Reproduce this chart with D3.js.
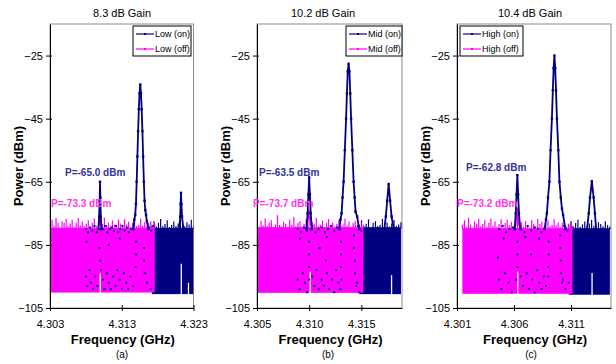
<!DOCTYPE html>
<html>
<head>
<meta charset="utf-8">
<script src="https://cdn.jsdelivr.net/npm/d3@7"></script>
<style>
  body { margin: 0; background: #fff; }
  svg { display: block; font-family: "Liberation Sans", Arial, sans-serif; }
</style>
</head>
<body>
<svg id="chart" width="616" height="364"></svg>
<script>
// ---- data ----
const titles = ['8.3 dB Gain', '10.2 dB Gain', '10.4 dB Gain'];
const letters = ['(a)', '(b)', '(c)'];
const onNames = ['Low (on)', 'Mid (on)', 'High (on)'];
const offNames = ['Low (off)', 'Mid (off)', 'High (off)'];
const onLabels = ['P=-65.0 dBm', 'P=-63.5 dBm', 'P=-62.8 dBm'];
const offLabels = ['P=-73.3 dBm', 'P=-73.7 dBm', 'P=-73.2 dBm'];

const yTicks = [-105, -85, -65, -45, -25];
const yDomain = [-105, -15];
const xDomains = [[4.303, 4.323], [4.305, 4.3189], [4.301, 4.3145]];
const xTicks = [[4.303, 4.313, 4.323], [4.305, 4.310, 4.315], [4.301, 4.306, 4.311]];

// noise floor: start / end of each band (GHz), bottom and solid top (dBm)
const offSpans = [[4.3030, 4.3176], [4.3050, 4.3152], [4.30147, 4.31112]];
const onSpans = [[4.3172, 4.3230], [4.3148, 4.3188], [4.3108, 4.3144]];
const offFloor = [-100.1, -100.2, -100.5];
const onFloor = [-100.6, -100.6, -100.8];
const bandBase = [-79.6, -79.4, -79.7];

// jagged top of the noise bands (dBm), left to right
const lowOffTop = [-78.5, -77, -79, -76.5, -78, -79.5, -77.5, -78, -76.8, -79, -78.2, -77, -79.3, -78, -76.5, -78.8, -77.6, -79, -78.3, -77.2, -79.5, -78, -76.6, -78.9, -77.8, -79.2, -78.4, -76.4, -78.7, -77.9, -79.1, -77.3, -78.6, -79.4, -77, -78.2, -79, -76.9, -78.5, -77.7, -79.3, -78.1, -77.4, -79, -78.6, -76.7, -78.9, -77.8, -79.2, -78, -77.5, -79.1, -78.4];
const lowOnTop = [-78.8, -77.5, -79.2, -78, -76.8, -79, -78.4, -77.2, -79.3, -78.6, -77.6, -79, -78.2, -76.9, -78.7, -79.1, -77.8, -78.5, -77, -79];
const midOffTop = [-78.2, -79.4, -77.4, -78.8, -76.6, -79, -78, -77.2, -79.3, -78.5, -75.6, -78.7, -79.1, -77.6, -78.3, -79.5, -77, -78.6, -76.2, -79, -78.1, -77.5, -79.2, -78.4, -76.9, -78.8, -79.3, -77.7, -78.2, -76.5, -79, -78.6, -77.3, -79.4, -78, -76.8, -78.9, -77.9, -79.2, -78.3, -77.1, -79, -78.5, -76.7, -78.9, -77.6, -79.3, -78.1, -77.4, -78.8, -79.1, -77.8, -78.6];
const midOnTop = [-78.6, -77.2, -79.1, -78.3, -76.9, -79.4, -78, -77.5, -79, -78.6, -76.8, -78.9, -77.9, -79.2, -78.2, -77.1, -79, -78.5, -77.8];
const highOffTop = [-78.6, -77.2, -79.3, -76.4, -78.5, -79.6, -77.6, -78.2, -76.8, -79.1, -78.3, -77.1, -79.4, -78, -76.6, -78.9, -77.5, -79.2, -78.4, -76.9, -79.6, -78.1, -77, -78.8, -77.7, -79.3, -78.5, -76.5, -78.6, -77.8, -79.2, -77.4, -78.7, -79.5, -77.1, -78.3, -79.1, -76.8, -78.4, -77.6, -79.4, -78.2, -77.3, -79.1, -78.7, -76.9, -78.8, -77.9, -79.3, -78.1, -77.4, -79.2, -78.3, -77.8, -79];
const highOnTop = [-78.8, -77.4, -79.2, -78.1, -77, -79.3, -78.5, -77.6, -79, -78.2, -77.1, -78.9, -79.4, -77.8, -78.4, -79.1, -77.5, -78.7, -79.2];

// carrier / spur peaks of the "on" trace [GHz, dBm]
const lowOnPeaks = [
  [[4.30975, -80], [4.30985, -76], [4.30992, -71], [4.30997, -65], [4.31002, -70], [4.31008, -76], [4.31018, -80]],
  [[4.3146, -80], [4.31475, -77], [4.31488, -75.5], [4.31498, -72], [4.31508, -65], [4.31518, -57], [4.31528, -49], [4.31538, -42], [4.31548, -37], [4.31558, -34.2], [4.31568, -37], [4.31578, -42], [4.31588, -49], [4.31598, -57], [4.31608, -65], [4.31618, -71], [4.31628, -74], [4.31638, -75.5], [4.3165, -77.5], [4.3167, -80]],
  [[4.3210, -80], [4.32115, -76], [4.3212, -72], [4.32126, -68.5], [4.32132, -72], [4.3214, -76], [4.3216, -80]]
];
const midOnPeaks = [
  [[4.30975, -80], [4.30985, -75], [4.30993, -69], [4.3100, -63.6], [4.31007, -69], [4.31015, -75], [4.31025, -80]],
  [[4.3129, -80], [4.3130, -77], [4.31311, -75], [4.3132, -70], [4.3133, -65], [4.31342, -55], [4.31354, -45], [4.31362, -37], [4.3137, -30], [4.31378, -27.6], [4.31386, -30], [4.31394, -37], [4.31402, -45], [4.31414, -55], [4.31426, -65], [4.31436, -70], [4.31445, -74.5], [4.3146, -76], [4.3148, -80]],
  [[4.3172, -80], [4.31735, -76], [4.31748, -71], [4.31762, -65.7], [4.31776, -71], [4.3179, -76], [4.3181, -80]]
];
const highOnPeaks = [
  [[4.30605, -80], [4.30615, -75], [4.30622, -69], [4.30629, -62.9], [4.30636, -69], [4.30643, -75], [4.30655, -80]],
  [[4.30868, -80], [4.3088, -77], [4.30888, -75], [4.30898, -70], [4.3091, -65], [4.3092, -55], [4.30932, -45], [4.3094, -36], [4.30947, -29], [4.30954, -25], [4.30961, -29], [4.30968, -36], [4.30976, -45], [4.30988, -55], [4.30998, -65], [4.3101, -70], [4.3102, -73.5], [4.3103, -75.5], [4.3105, -80]],
  [[4.3124, -80], [4.31255, -75], [4.31266, -70], [4.31282, -64.8], [4.31298, -70], [4.31309, -75], [4.3132, -80]]
];

// small spur of the "off" trace
const lowOffPeak = [[4.30985, -79], [4.30995, -73.3], [4.31005, -79]];
const midOffPeak = [[4.30985, -79], [4.30998, -73.7], [4.3101, -79]];
const highOffPeak = [[4.30615, -79], [4.30628, -73.2], [4.3064, -79]];

// "on" trace samples showing through the pink band
const lowOnDots = [
  [4.3080, -80], [4.3083, -81], [4.3086, -79.5], [4.3089, -80.5], [4.3092, -79], [4.3095, -81], [4.3104, -80], [4.3107, -79], [4.3110, -81], [4.3113, -80], [4.3116, -79.5], [4.3119, -80.5], [4.3122, -79], [4.3125, -81], [4.3128, -80], [4.3131, -79], [4.3134, -80.5], [4.3137, -79.5], [4.3140, -81], [4.3143, -80], [4.3168, -79.5], [4.3171, -80.5], [4.3174, -79],
  [4.3081, -84], [4.3099, -86], [4.3100, -90], [4.3101, -93], [4.3150, -84], [4.3150, -88], [4.3149, -92], [4.3161, -86], [4.3161, -90], [4.3162, -94], [4.3127, -83], [4.3112, -85],
  [4.3080, -95], [4.3082, -98], [4.3085, -93], [4.3087, -97], [4.3090, -99], [4.3093, -95], [4.3096, -98], [4.3104, -96], [4.3106, -99], [4.3109, -94], [4.3112, -97], [4.3115, -99], [4.3118, -95], [4.3121, -98], [4.3124, -93], [4.3127, -96], [4.3130, -99], [4.3133, -94], [4.3136, -97], [4.3139, -99], [4.3142, -95], [4.3146, -98], [4.3165, -97], [4.3170, -99]
];
const midOnDots = [
  [4.3089, -80], [4.3092, -81], [4.3095, -79.5], [4.3098, -80.5], [4.3103, -79], [4.3106, -81], [4.3109, -80], [4.3112, -79.5], [4.3115, -81], [4.3118, -80], [4.3121, -79], [4.3124, -80.5], [4.3127, -79.5], [4.3147, -79], [4.3150, -80.5], [4.3091, -83], [4.3117, -82.5],
  [4.3100, -84], [4.3100, -88], [4.3100, -92], [4.3100, -96], [4.31305, -84], [4.31305, -88], [4.31305, -92], [4.3131, -96], [4.3143, -82], [4.3143, -86], [4.3144, -90], [4.3144, -94], [4.3145, -98], [4.3110, -86], [4.3116, -90],
  [4.3089, -96], [4.3091, -99], [4.3094, -94], [4.3096, -97], [4.3098, -100], [4.3103, -95], [4.3105, -98], [4.3107, -93], [4.3109, -99], [4.3112, -96], [4.3114, -98], [4.3117, -94], [4.3119, -99], [4.3122, -96], [4.3124, -100], [4.3126, -93], [4.3128, -97], [4.3130, -99], [4.3146, -97], [4.3148, -100]
];
const highOnDots = [
  [4.3047, -80], [4.3050, -79], [4.3053, -81], [4.3056, -80], [4.3059, -79.5], [4.3066, -80], [4.3069, -81], [4.3072, -79], [4.3075, -80.5], [4.3078, -79.5], [4.3081, -80], [4.3084, -81], [4.3087, -79.5], [4.3104, -79], [4.3107, -80.5], [4.3051, -83], [4.3070, -82.5], [4.3082, -83],
  [4.3063, -84], [4.3063, -88], [4.3063, -92], [4.3062, -96], [4.30904, -84], [4.30904, -88], [4.3090, -92], [4.3090, -95], [4.31006, -82], [4.31006, -86], [4.3101, -90], [4.3101, -94], [4.3102, -97], [4.3046, -89], [4.3075, -88],
  [4.3047, -96], [4.3049, -99], [4.3052, -94], [4.3055, -97], [4.3058, -100], [4.3066, -95], [4.3068, -98], [4.3071, -94], [4.3073, -99], [4.3076, -96], [4.3078, -100], [4.3080, -93], [4.3082, -97], [4.3084, -99], [4.3086, -95], [4.3088, -98], [4.3103, -96], [4.3105, -99], [4.3108, -97]
];

// white notches in the noise floor under the spurs [GHz, top dBm]
const lowGaps = [[4.3100, -94], [4.3213, -91], [4.3223, -97]];
const midGaps = [[4.3101, -93.5], [4.3179, -94.6]];
const highGaps = [[4.30632, -93.5], [4.31284, -93.9]];

// ---- layout (pixels) ----
const plotTop = 24, plotBottom = 308;
const layout = [
  { left: 50, right: 193.5, titleX: 122, letterX: 122, yLabelX: 18, legend: [133, 26, 58, 30], onAt: [65, 172], offAt: [51, 203] },
  { left: 257, right: 402, titleX: 323, letterX: 328, yLabelX: 225, legend: [346, 26, 56, 30], onAt: [259, 172], offAt: [253, 203] },
  { left: 457, right: 611, titleX: 530, letterX: 531, yLabelX: 425, legend: [460, 26, 63, 30], onAt: [466, 167], offAt: [457, 203] }
];

const navy = '#000080';
const magenta = '#ff00ff';
const offTops = [lowOffTop, midOffTop, highOffTop];
const onTops = [lowOnTop, midOnTop, highOnTop];
const onPeaks = [lowOnPeaks, midOnPeaks, highOnPeaks];
const offPeaks = [lowOffPeak, midOffPeak, highOffPeak];
const onDots = [lowOnDots, midOnDots, highOnDots];
const gaps = [lowGaps, midGaps, highGaps];

const svg = d3.select('#chart');

layout.forEach((lay, p) => {
  const x = d3.scaleLinear().domain(xDomains[p]).range([lay.left, lay.right]);
  const y = d3.scaleLinear().domain(yDomain).range([plotBottom, plotTop]);

  const clipId = `clip-${p}`;
  svg.append('clipPath').attr('id', clipId)
    .append('rect')
    .attr('x', lay.left).attr('y', plotTop)
    .attr('width', lay.right - lay.left).attr('height', plotBottom - plotTop);

  // plot area border (grey, like the excel frame)
  svg.append('rect')
    .attr('x', lay.left).attr('y', plotTop)
    .attr('width', lay.right - lay.left).attr('height', plotBottom - plotTop)
    .attr('fill', '#fff').attr('stroke', '#8c8c8c').attr('stroke-width', 1);

  const g = svg.append('g').attr('clip-path', `url(#${clipId})`);

  // noise band: solid block plus a comb of thin spikes on top
  const band = (tops, span, floor, color) => {
    const idx = d3.scaleLinear().domain([0, tops.length - 1]).range(span);
    g.append('rect')
      .attr('x', x(span[0])).attr('y', y(bandBase[p]))
      .attr('width', x(span[1]) - x(span[0]))
      .attr('height', y(floor) - y(bandBase[p]))
      .attr('fill', color);
    g.selectAll(null)
      .data(tops)
      .join('line')
      .attr('x1', (d, i) => x(idx(i))).attr('x2', (d, i) => x(idx(i)))
      .attr('y1', y(bandBase[p]) + 1)
      .attr('y2', d => y(d))
      .attr('stroke', color).attr('stroke-width', 1.2);
  };

  band(onTops[p], onSpans[p], onFloor[p], navy);
  band(offTops[p], offSpans[p], offFloor[p], magenta);

  const line = d3.line().x(d => x(d[0])).y(d => y(d[1]));

  // pink spur
  g.append('path').datum(offPeaks[p])
    .attr('d', line).attr('fill', 'none')
    .attr('stroke', magenta).attr('stroke-width', 1.4);

  // white notches below spurs
  g.selectAll('.gap')
    .data(gaps[p])
    .join('line')
    .attr('x1', d => x(d[0])).attr('x2', d => x(d[0]))
    .attr('y1', d => y(d[1]))
    .attr('y2', y(Math.min(offFloor[p], onFloor[p]) - 1))
    .attr('stroke', '#fff').attr('stroke-width', 1.3);

  // on-trace dots inside the pink band
  g.selectAll('.dot')
    .data(onDots[p])
    .join('rect')
    .attr('x', d => x(d[0]) - 1).attr('y', d => y(d[1]) - 1)
    .attr('width', 2).attr('height', 2)
    .attr('fill', navy);

  // on-trace peaks
  onPeaks[p].forEach(pk => {
    g.append('path').datum(pk)
      .attr('d', line).attr('fill', 'none')
      .attr('stroke', navy).attr('stroke-width', 1.8);
    g.selectAll(null)
      .data(pk)
      .join('rect')
      .attr('x', d => x(d[0]) - 1.2).attr('y', d => y(d[1]) - 1.2)
      .attr('width', 2.4).attr('height', 2.4)
      .attr('fill', navy);
  });

  // axes
  const yAxis = svg.append('g')
    .attr('transform', `translate(${lay.left},0)`)
    .call(d3.axisLeft(y).tickValues(yTicks).tickSize(4).tickSizeOuter(0).tickPadding(3));
  yAxis.select('.domain').attr('stroke', '#000');
  yAxis.selectAll('.tick line').attr('x2', -4).attr('x1', 2);
  yAxis.selectAll('text').style('font-size', '11px').attr('fill', '#000');

  const xAxis = svg.append('g')
    .attr('transform', `translate(0,${plotBottom})`)
    .call(d3.axisBottom(x).tickValues(xTicks[p]).tickFormat(d3.format('.3f'))
      .tickSize(3).tickSizeOuter(0).tickPadding(9));
  xAxis.select('.domain').attr('stroke', '#000');
  xAxis.selectAll('.tick line').attr('y1', -3).attr('y2', 3);
  xAxis.selectAll('text').style('font-size', '11px').attr('fill', '#000');

  // title, axis titles, panel letter
  svg.append('text')
    .attr('x', lay.titleX).attr('y', 17)
    .attr('text-anchor', 'middle')
    .style('font-size', '11px')
    .text(titles[p]);

  svg.append('text')
    .attr('transform', `translate(${lay.yLabelX + 5},${(plotTop + plotBottom) / 2}) rotate(-90)`)
    .attr('text-anchor', 'middle')
    .style('font-size', '13px').style('font-weight', 'bold')
    .text('Power (dBm)');

  svg.append('text')
    .attr('x', (lay.left + lay.right) / 2 + 1).attr('y', 344)
    .attr('text-anchor', 'middle')
    .style('font-size', '13px').style('font-weight', 'bold')
    .text('Frequency (GHz)');

  svg.append('text')
    .attr('x', lay.letterX).attr('y', 358)
    .attr('text-anchor', 'middle')
    .style('font-size', '10px')
    .text(letters[p]);

  // peak power labels
  svg.append('text')
    .attr('x', lay.onAt[0]).attr('y', lay.onAt[1] + 4)
    .style('font-size', '10px').style('font-weight', 'bold')
    .attr('fill', '#333399')
    .text(onLabels[p]);

  svg.append('text')
    .attr('x', lay.offAt[0]).attr('y', lay.offAt[1] + 4)
    .style('font-size', '10px').style('font-weight', 'bold')
    .attr('fill', '#ff33e6')
    .text(offLabels[p]);

  // legend
  const [lx, ly, lw, lh] = lay.legend;
  const legend = svg.append('g');
  legend.append('rect')
    .attr('x', lx).attr('y', ly).attr('width', lw).attr('height', lh)
    .attr('fill', '#fff').attr('stroke', '#000').attr('stroke-width', 1);

  [[onNames[p], navy], [offNames[p], magenta]].forEach(([name, color], i) => {
    const cy = ly + 8 + i * 15;
    legend.append('line')
      .attr('x1', lx + 3).attr('x2', lx + 21)
      .attr('y1', cy).attr('y2', cy)
      .attr('stroke', color).attr('stroke-width', 1.2);
    legend.append('rect')
      .attr('x', lx + 11).attr('y', cy - 1)
      .attr('width', 2).attr('height', 2)
      .attr('fill', color);
    legend.append('text')
      .attr('x', lx + 22).attr('y', cy + 3)
      .style('font-size', '9px')
      .text(name);
  });
});
</script>
</body>
</html>
